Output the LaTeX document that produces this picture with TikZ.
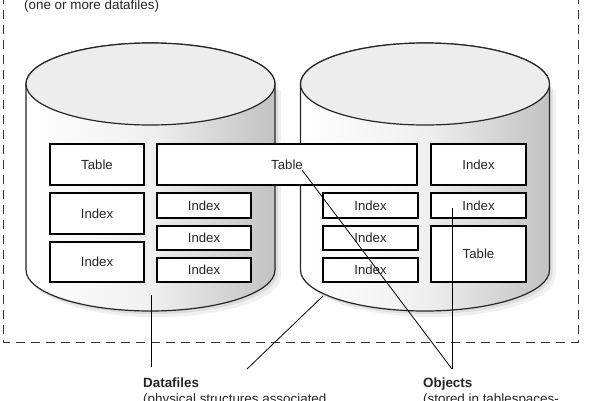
\documentclass[tikz,border=0pt]{standalone}
\usepackage{fontspec}
\setmainfont{Liberation Sans}
\begin{document}
\begin{tikzpicture}[x=1pt,y=-1pt,
  bx/.style={draw=black,line width=1.6pt,fill=white,inner sep=0pt,
    font=\fontsize{13.2}{15}\selectfont,text=black!85},
  cyl/.style={draw=black!85,line width=1.2pt,left color=white,right color=black!24,middle color=black!6},
  topell/.style={draw=black!85,line width=1.2pt,fill=black!7},
  callout/.style={draw=black,line width=0.8pt},
  lbl/.style={inner sep=0pt,font=\fontsize{13.4}{16}\selectfont,text=black!85},
  dashbox/.style={draw=black!80,line width=0.9pt,dash pattern=on 9pt off 6pt}]
\clip (0,0) rectangle (600,400);
\fill[white] (0,0) rectangle (600,400);
% dashed tablespace frame
\draw[dashbox] (3,-20) -- (3,342) -- (578,342) -- (578,-20);
\node[lbl,anchor=base west] (tsnote) at (24,9) {(one or more datafiles)};
% cylinders
\foreach \cx/\nm in {150.5/c1,425/c2}{
  \fill[black,opacity=0.06] (\cx-124.5+6,90) -- (\cx-124.5+6,276) arc[start angle=180,end angle=360,x radius=124.5pt,y radius=41pt] -- (\cx+124.5+6,90) -- cycle;
  \fill[black,opacity=0.08] (\cx-124.5+3,87) -- (\cx-124.5+3,273) arc[start angle=180,end angle=360,x radius=124.5pt,y radius=41pt] -- (\cx+124.5+3,87) -- cycle;
  \path[cyl] (\cx-124.5,84) -- (\cx-124.5,270) arc[start angle=180,end angle=360,x radius=124.5pt,y radius=41pt] -- (\cx+124.5,84) arc[start angle=0,end angle=180,x radius=124.5pt,y radius=41pt] -- cycle;
  \draw[topell] (\cx,84) ellipse[x radius=124.5pt,y radius=41pt];
  \coordinate (\nm) at (\cx,177);
}
% left cylinder boxes
\node[bx,minimum width=94pt,minimum height=41pt] (t1) at (97,164.5) {Table};
\node[bx,minimum width=94pt,minimum height=41pt] (i1) at (97,213.5) {Index};
\node[bx,minimum width=94pt,minimum height=40pt] (i2) at (97,262) {Index};
\node[bx,minimum width=94pt,minimum height=25pt] (i3) at (204,205.5) {Index};
\node[bx,minimum width=94pt,minimum height=24pt] (i4) at (204,238) {Index};
\node[bx,minimum width=94pt,minimum height=24pt] (i5) at (204,270) {Index};
% spanning table
\node[bx,minimum width=260pt,minimum height=41pt] (t2) at (287,164.5) {Table};
% right cylinder boxes
\node[bx,minimum width=95pt,minimum height=25pt] (i6) at (370.5,205.5) {Index};
\node[bx,minimum width=95pt,minimum height=24pt] (i7) at (370.5,238) {Index};
\node[bx,minimum width=95pt,minimum height=24pt] (i8) at (370.5,270) {Index};
\node[bx,minimum width=95pt,minimum height=41pt] (i9) at (478.5,164.5) {Index};
\node[bx,minimum width=95pt,minimum height=25pt] (i10) at (478.5,205.5) {Index};
\node[bx,minimum width=95pt,minimum height=56pt] (t3) at (478.5,254) {Table};
% labels
\node[lbl,anchor=base west] (dfl) at (143,387) {\textbf{Datafiles}};
\node[lbl,anchor=base west] (dfd) at (143,403) {(physical structures associated};
\node[lbl,anchor=base west] (obl) at (423,387) {\textbf{Objects}};
\node[lbl,anchor=base west] (obd) at (423,403) {(stored in tablespaces-};
% callout anchor points
\coordinate (dfA) at (151,295);
\coordinate (dfB) at (323,296);
\coordinate (dfTip1) at (151,367);
\coordinate (dfTip2) at (247,369);
\coordinate (obA) at (302,170);
\coordinate (obB) at (452,208);
\coordinate (obTip) at (452,369);
\draw[callout] (dfA) -- (dfTip1);
\draw[callout] (dfB) -- (dfTip2);
\draw[callout] (obA) -- (obTip);
\draw[callout] (obB) -- (obTip);
\end{tikzpicture}
\end{document}
